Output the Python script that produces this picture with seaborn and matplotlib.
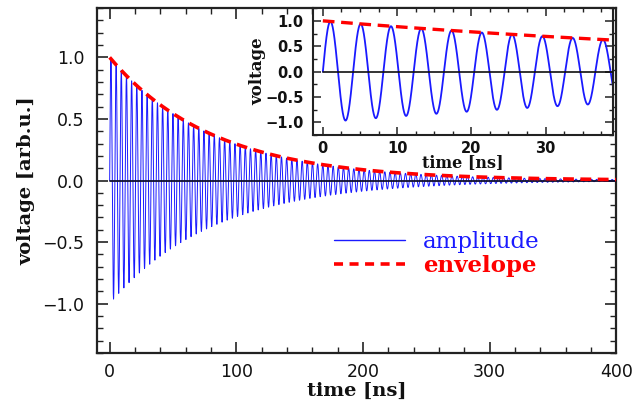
import numpy as np
import pandas as pd
import matplotlib
matplotlib.use("Agg")
import matplotlib.pyplot as plt
from matplotlib.ticker import MultipleLocator
from matplotlib.lines import Line2D
import seaborn as sns

# Ring-down of a damped oscillator: parameters of the trace
t_start_ns = 0.0
t_stop_ns = 400.0
inset_stop_ns = 39.2
period_ns = 4.08          # oscillation period
decay_ns = 82.0           # 1/e decay time of the envelope
amplitude0 = 1.0          # initial amplitude

main_xticks = [0, 100, 200, 300, 400]
main_yticks = [-1.0, -0.5, 0.0, 0.5, 1.0]
inset_xticks = [0, 10, 20, 30]
inset_yticks = [-1.0, -0.5, 0.0, 0.5, 1.0]

BLUE = "#1a1aff"
RED = "#ff0000"

t = np.linspace(t_start_ns, t_stop_ns, 40001)
envelope = amplitude0 * np.exp(-t / decay_ns)
signal = envelope * np.sin(2 * np.pi * t / period_ns)
df = pd.DataFrame({"time": t, "amplitude": signal, "envelope": envelope})
df_in = df[df["time"] <= inset_stop_ns]

sns.set_theme(style="ticks")
plt.rcParams["font.family"] = ["DejaVu Sans"]

fig = plt.figure(figsize=(6.34, 4.07), dpi=100)
ax = fig.add_axes([0.153, 0.133, 0.819, 0.847])

sns.lineplot(data=df, x="time", y="amplitude", ax=ax, color=BLUE,
             linewidth=0.7, estimator=None, sort=False)
ax.plot([t_start_ns, t_stop_ns], [0, 0], color="#101030", linewidth=1.3, zorder=3)
sns.lineplot(data=df, x="time", y="envelope", ax=ax, color=RED,
             linewidth=2.6, estimator=None, sort=False, zorder=4)
ax.lines[-1].set_dashes([3, 1.8])

ax.set_xlim(-10, 400)
ax.set_ylim(-1.4, 1.4)
ax.set_xticks(main_xticks)
ax.set_yticks(main_yticks)
ax.xaxis.set_minor_locator(MultipleLocator(20))
ax.yaxis.set_minor_locator(MultipleLocator(0.1))
ax.tick_params(which="both", direction="in", top=True, right=True,
               color="#222222", labelsize=12.5, labelcolor="#111111")
ax.tick_params(which="major", length=8, width=1.2)
ax.tick_params(which="minor", length=4, width=1.0)
ax.tick_params(axis="y", which="major", pad=9)
ax.tick_params(axis="x", which="major", pad=7)
ax.set_yticklabels([f"{v:.1f}".replace("-", "\u2212") for v in main_yticks])
for s in ax.spines.values():
    s.set_linewidth(1.6)
    s.set_color("#222222")
ax.set_xlabel("time [ns]", family="DejaVu Serif", fontweight="bold",
              fontsize=14, labelpad=1, color="#111111")
ax.set_ylabel("voltage [arb.u.]", family="DejaVu Serif", fontweight="bold",
              fontsize=14, labelpad=5, color="#111111")

handles = [Line2D([], [], color=BLUE, linewidth=1.0),
           Line2D([], [], color=RED, linewidth=2.6, dashes=[2.5, 1.8])]
leg = ax.legend(handles, ["amplitude", "envelope"], loc="upper left",
                bbox_to_anchor=(0.438, 0.38), frameon=False, handlelength=3.1,
                handletextpad=0.8, labelspacing=0.1, borderaxespad=0,
                prop={"family": "DejaVu Serif", "size": 16.5})
for txt, col, w in zip(leg.get_texts(), [BLUE, RED], ["normal", "bold"]):
    txt.set_color(col)
    txt.set_fontweight(w)

# Inset: first few oscillation periods
ins = fig.add_axes([0.494, 0.668, 0.473, 0.312])
ins.set_facecolor("white")
sns.lineplot(data=df_in, x="time", y="amplitude", ax=ins, color=BLUE,
             linewidth=1.3, estimator=None, sort=False)
ins.plot([t_start_ns, inset_stop_ns], [0, 0], color="#101010", linewidth=1.2, zorder=3)
sns.lineplot(data=df_in, x="time", y="envelope", ax=ins, color=RED,
             linewidth=2.4, estimator=None, sort=False, zorder=4)
ins.lines[-1].set_dashes([3.5, 2])
ins.set_xlim(-1.3, 39.1)
ins.set_ylim(-1.25, 1.25)
ins.set_xticks(inset_xticks)
ins.set_yticks(inset_yticks)
ins.xaxis.set_minor_locator(MultipleLocator(2.5))
ins.yaxis.set_minor_locator(MultipleLocator(0.25))
ins.tick_params(which="both", direction="in", top=True, right=True,
                color="#222222", labelsize=10.5, labelcolor="#111111")
ins.tick_params(which="major", length=6, width=1.1)
ins.tick_params(which="minor", length=3, width=1.0)
ins.tick_params(axis="y", which="major", pad=7)
ins.tick_params(axis="x", which="major", pad=4)
ins.set_yticklabels([f"{v:.1f}".replace("-", "\u2212") for v in inset_yticks],
                    fontweight="bold")
ins.set_xticklabels([str(v) for v in inset_xticks], fontweight="bold")
for s in ins.spines.values():
    s.set_linewidth(1.5)
    s.set_color("#222222")
ins.set_xlabel("time [ns]", family="DejaVu Serif", fontweight="bold",
               fontsize=11.5, labelpad=-1, color="#111111")
ins.set_ylabel("voltage", family="DejaVu Serif", fontweight="bold",
               fontsize=12, labelpad=-1, color="#111111")

fig.savefig("out.png", dpi=100)
